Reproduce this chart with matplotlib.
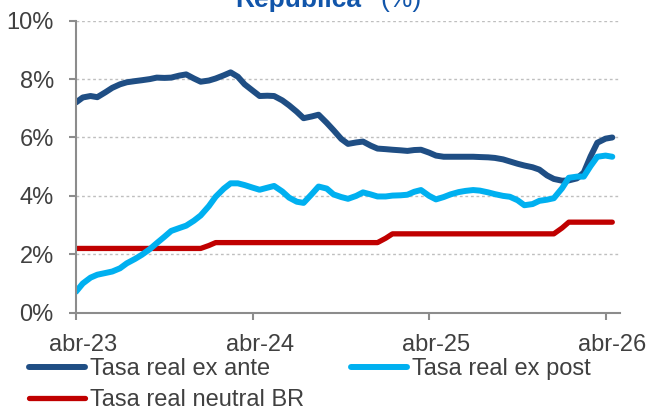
import matplotlib.pyplot as plt
import matplotlib.transforms as mtransforms
from matplotlib.ticker import FuncFormatter
import pandas as pd

plt.rcParams['font.family'] = ['Liberation Sans', 'DejaVu Sans']

# Datos (quincenales, %)
fechas = pd.date_range('2023-04-01', '2026-04-15', freq='SMS')

ex_ante = [7.20, 7.37, 7.42, 7.38, 7.55, 7.70, 7.82, 7.89, 7.93, 7.96,
           8.00, 8.05, 8.04, 8.05, 8.12, 8.16, 8.02, 7.91, 7.95, 8.02,
           8.13, 8.23, 8.08, 7.82, 7.60, 7.42, 7.43, 7.42, 7.27, 7.10,
           6.88, 6.66, 6.72, 6.78, 6.50, 6.25, 5.95, 5.78, 5.83, 5.86,
           5.72, 5.62, 5.60, 5.58, 5.56, 5.54, 5.57, 5.58, 5.48, 5.38,
           5.34, 5.34, 5.34, 5.34, 5.34, 5.33, 5.32, 5.30, 5.25, 5.18,
           5.10, 5.04, 4.98, 4.90, 4.70, 4.58, 4.52, 4.53, 4.60, 4.80,
           5.35, 5.82, 5.96, 6.00]

ex_post = [0.72, 1.00, 1.20, 1.30, 1.36, 1.41, 1.52, 1.69, 1.84, 1.98,
           2.18, 2.38, 2.60, 2.80, 2.90, 2.98, 3.15, 3.33, 3.65, 3.97,
           4.25, 4.43, 4.43, 4.37, 4.28, 4.21, 4.28, 4.34, 4.15, 3.94,
           3.80, 3.76, 4.06, 4.32, 4.25, 4.05, 3.96, 3.90, 4.00, 4.12,
           4.05, 3.98, 3.98, 4.01, 4.02, 4.04, 4.14, 4.20, 4.00, 3.88,
           3.96, 4.05, 4.13, 4.17, 4.20, 4.18, 4.12, 4.06, 4.00, 3.97,
           3.85, 3.68, 3.72, 3.83, 3.87, 3.92, 4.26, 4.62, 4.66, 4.66,
           5.02, 5.34, 5.38, 5.34]

neutral = [2.2] * 18 + [2.3] + [2.4] * 23 + [2.55] + [2.7] * 23 + [2.9] + [3.1] * 7

ticks = pd.to_datetime(['2023-04-01', '2024-04-01', '2025-04-01', '2026-04-01'])
tick_labels = ['abr-23', 'abr-24', 'abr-25', 'abr-26']

c_ante = '#1F4E84'
c_post = '#00B0F0'
c_neutral = '#C00000'
gris = '#8C8C8C'
texto = '#404040'

fig = plt.figure(figsize=(6.47, 4.11), dpi=100)
ax = fig.add_axes([0.1175, 0.2392, 0.8408, 0.7105])

estilo = dict(solid_capstyle='round', solid_joinstyle='round')
l1, = ax.plot(fechas, ex_ante, color=c_ante, lw=4.3, label='Tasa real ex ante', **estilo)
l3, = ax.plot(fechas, neutral, color=c_neutral, lw=3.8, label='Tasa real neutral BR', **estilo)
l2, = ax.plot(fechas, ex_post, color=c_post, lw=4.3, label='Tasa real ex post', **estilo)

ax.set_ylim(0, 10)
ax.set_yticks([0, 2, 4, 6, 8, 10])
ax.yaxis.set_major_formatter(FuncFormatter(lambda v, p: f'{v:.0f}%'))
ax.set_xlim(pd.Timestamp('2023-04-01'), pd.Timestamp('2026-05-01'))
ax.set_xticks(ticks)
ax.set_xticklabels(tick_labels)

ax.grid(axis='y', color='#BFBFBF', linestyle=(0, (2, 2)), lw=1)
ax.set_axisbelow(True)
for s in ['top', 'right']:
    ax.spines[s].set_visible(False)
for s in ['left', 'bottom']:
    ax.spines[s].set_color(gris)
    ax.spines[s].set_linewidth(1.5)

ax.tick_params(axis='y', length=5, width=1.5, color=gris, labelsize=17,
               labelcolor=texto, pad=11)
ax.tick_params(axis='x', length=5, width=1.5, color=gris, labelsize=17,
               labelcolor=texto, pad=10)

off = mtransforms.ScaledTranslation(7 / 100, 0, fig.dpi_scale_trans)
for lab in ax.get_xticklabels():
    lab.set_transform(lab.get_transform() + off)

# Título (cortado en la parte superior, como en el original)
fig.text(235 / 647, 1 - 7 / 411, 'República', color='#1155AA', fontsize=19,
         fontweight='bold', ha='left', va='baseline')
fig.text(380 / 647, 1 - 7 / 411, '(%)', color='#1155AA', fontsize=19,
         ha='left', va='baseline')

fig.legend(handles=[l1, l3, l2], loc='upper left',
           bbox_to_anchor=(29 / 647, 1 - 358 / 411), ncol=2, frameon=False,
           fontsize=17, labelcolor=texto, handlelength=2.37, handletextpad=0.2,
           columnspacing=2.0, labelspacing=0.4, borderpad=0, borderaxespad=0)

fig.savefig('out.png', dpi=100)
